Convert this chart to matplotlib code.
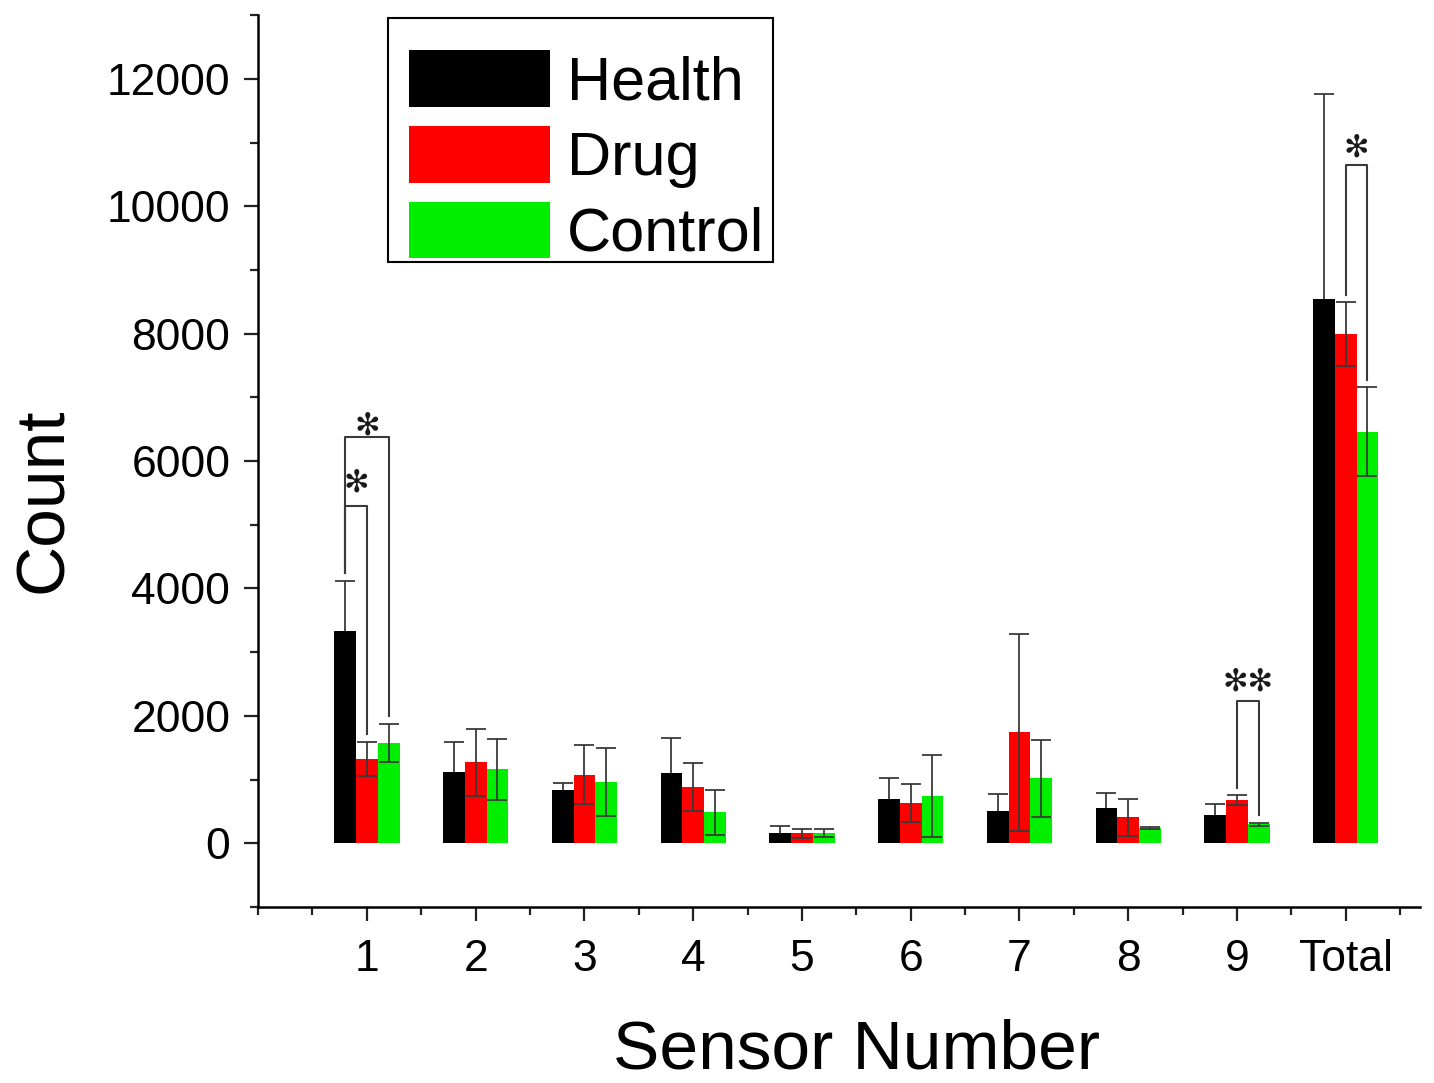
import numpy as np
import matplotlib
matplotlib.use("Agg")
import matplotlib.pyplot as plt
from matplotlib.patches import Rectangle
from matplotlib.ticker import MultipleLocator

plt.rcParams['font.family'] = ['Liberation Sans', 'DejaVu Sans']

# ---- data ----
sensors = ["1", "2", "3", "4", "5", "6", "7", "8", "9", "Total"]
health = [3330, 1115, 830, 1100, 165, 690, 500, 550, 440, 8550]
health_err = [790, 470, 110, 550, 110, 330, 270, 235, 170, 3220]
drug = [1320, 1270, 1080, 880, 160, 630, 1740, 410, 675, 7990]
drug_err = [270, 520, 460, 380, 70, 300, 1540, 290, 80, 500]
control = [1575, 1160, 960, 485, 160, 740, 1020, 240, 300, 6460]
control_err = [300, 480, 530, 350, 60, 640, 600, 15, 25, 700]

series = [("Health", health, health_err, "black"),
          ("Drug", drug, drug_err, "#ff0000"),
          ("Control", control, control_err, "#00ee00")]

# significance brackets: (group index, left series, right series, bracket top, label)
brackets = [(0, 0, 1, 5300, "\u273b"),
            (0, 0, 2, 6380, "\u273b"),
            (8, 1, 2, 2230, "\u273b\u273b"),
            (9, 1, 2, 10650, "\u273b")]
star_lift = [10, 1.5, 8, 6]   # points above bracket top

width = 0.2
offsets = [-width, 0, width]
x = np.arange(1, len(sensors) + 1)

fig = plt.figure(figsize=(14.34, 10.83), dpi=100)
ax = fig.add_axes([0.18, 0.1625, 0.81, 0.8235])

for i, ((name, vals, errs, col), off) in enumerate(zip(series, offsets)):
    ax.bar(x + off, vals, width, color=col, label=name, zorder=2)
    # the black bars hide the lower half of their whiskers
    ax.errorbar(x + off, vals, yerr=errs, fmt='none', ecolor='#3a3a3a',
                elinewidth=1.3, capsize=7, capthick=1.3, zorder=1 if i == 0 else 3)

tops = [np.array(v) + np.array(e) for _, v, e, _ in series]
for (g, a, b, top, lab), lift in zip(brackets, star_lift):
    xa = x[g] + offsets[a]
    xb = x[g] + offsets[b]
    ya = tops[a][g] + 120
    yb = tops[b][g] + 120
    ax.plot([xa, xa, xb, xb], [ya, top, top, yb], color='#3a3a3a', lw=1.5, zorder=4)
    ax.annotate(lab, ((xa + xb) / 2, top), xytext=(0, lift), textcoords='offset points',
                ha='center', va='baseline', fontsize=22, family='DejaVu Sans',
                color='#1a1a1a')

ax.set_xlim(0, 10.68)
ax.set_ylim(-1000, 13000)
ax.set_xticks(x)
ax.set_xticklabels(sensors)
ax.set_yticks(np.arange(0, 12001, 2000))
ax.xaxis.set_minor_locator(MultipleLocator(0.5))
ax.yaxis.set_minor_locator(MultipleLocator(1000))

for s in ['top', 'right']:
    ax.spines[s].set_visible(False)
for s in ['left', 'bottom']:
    ax.spines[s].set_linewidth(1.8)

ax.tick_params(axis='both', which='major', direction='out', length=10, width=1.6,
               labelsize=32, color='#222222')
ax.tick_params(axis='both', which='minor', direction='out', length=6, width=1.6,
               color='#222222')
ax.tick_params(axis='x', which='major', pad=13)
ax.tick_params(axis='y', which='major', pad=10)

ax.set_xlabel("Sensor Number", fontsize=50, labelpad=28)
ax.xaxis.label.set_x(0.5155)
ax.set_ylabel("Count", fontsize=50, labelpad=22)
ax.yaxis.label.set_y(0.456)

leg = ax.legend(loc='upper left', bbox_to_anchor=(0.130, 0.9605), borderaxespad=0,
                fontsize=44, frameon=False, handlelength=2.3, handleheight=1.05,
                labelspacing=0.22, handletextpad=0.28, borderpad=0)

# legend frame: uneven padding around the entries, as in the original
fig.canvas.draw()
ext = leg.get_window_extent(renderer=fig.canvas.get_renderer())
pad_l, pad_r, pad_b, pad_t = 21, 9, -2, 32
W, H = fig.bbox.width, fig.bbox.height
fig.patches.append(Rectangle(((ext.x0 - pad_l) / W, (ext.y0 - pad_b) / H),
                             (ext.width + pad_l + pad_r) / W,
                             (ext.height + pad_b + pad_t) / H,
                             transform=fig.transFigure, facecolor='none',
                             edgecolor='black', lw=1.5, zorder=10))

fig.savefig("out.png", dpi=100)
